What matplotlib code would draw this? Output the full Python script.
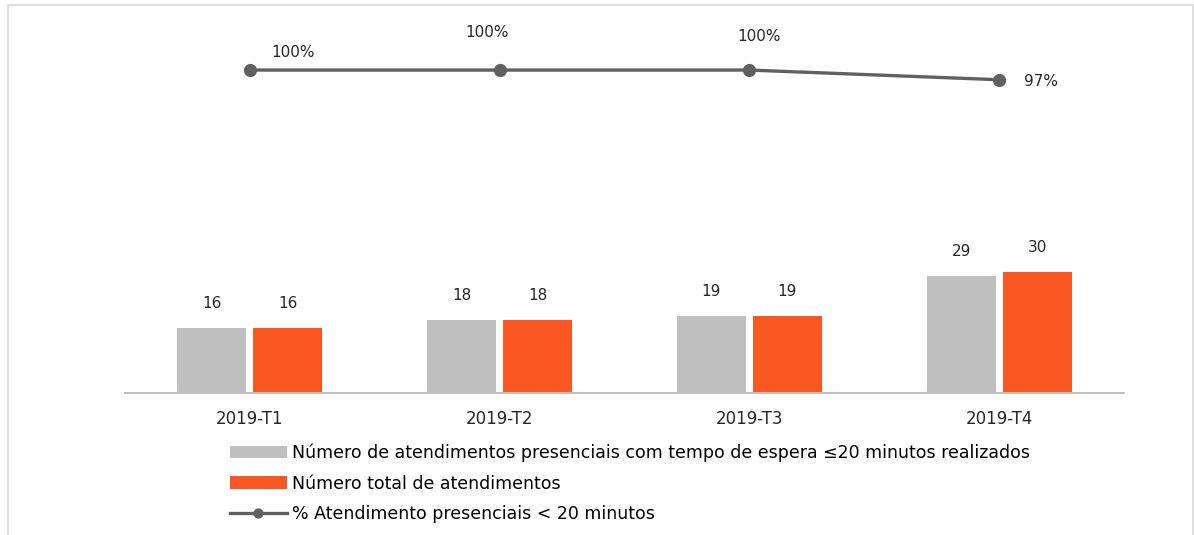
import numpy as np
import matplotlib.pyplot as plt
from matplotlib.patches import Rectangle

plt.rcParams['font.family'] = ['DejaVu Sans']

# dados
trimestres = ['2019-T1', '2019-T2', '2019-T3', '2019-T4']
realizados = [16, 18, 19, 29]
total = [16, 18, 19, 30]
percentagem = [1.00, 1.00, 1.00, 0.97]
rotulos_pct = ['100%', '100%', '100%', '97%']

nome_realizados = 'Número de atendimentos presenciais com tempo de espera ≤20 minutos realizados'
nome_total = 'Número total de atendimentos'
nome_pct = '% Atendimento presenciais < 20 minutos'

cor_cinza = '#BFBFBF'
cor_laranja = '#FA5722'
cor_linha = '#606060'

fig = plt.figure(figsize=(11.94, 5.35), dpi=100)
ax = fig.add_axes([0.1047, 0.2654, 0.8367, 0.6785])

# moldura do gráfico
fig.patches.append(Rectangle((8 / 1194, -0.05), 1185 / 1194, 1.05 - 5 / 535,
                             transform=fig.transFigure, fill=False,
                             edgecolor='#D9D9D9', linewidth=1.2))

x = np.arange(len(trimestres))
largura = 0.276
desloc = 0.152

b1 = ax.bar(x - desloc, realizados, largura, color=cor_cinza, label=nome_realizados)
b2 = ax.bar(x + desloc, total, largura, color=cor_laranja, label=nome_total)

for barras in (b1, b2):
    for r in barras:
        ax.annotate(f'{int(r.get_height())}', (r.get_x() + r.get_width() / 2, r.get_height()),
                    xytext=(0, 18), textcoords='offset points', ha='center', va='center',
                    fontsize=11, color='#262626')

ax.set_xlim(-0.5, 3.5)
ax.set_ylim(0, 90)
ax.set_yticks([])
ax.set_xticks(x)
ax.set_xticklabels(trimestres, fontsize=12, color='#262626')
ax.tick_params(axis='x', length=0, pad=12)
for s in ['top', 'right', 'left']:
    ax.spines[s].set_visible(False)
ax.spines['bottom'].set_color(cor_cinza)
ax.spines['bottom'].set_linewidth(1.5)

ax2 = ax.twinx()
ln, = ax2.plot(x, percentagem, color=cor_linha, linewidth=2.4, marker='o',
               markersize=8.5, label=nome_pct)
ax2.set_ylim(0, 1.124)
ax2.set_yticks([])
for s in ax2.spines.values():
    s.set_visible(False)

offsets = [(31, 13), (-9, 27), (7, 24), (30, -1)]
for xi, yi, txt, off in zip(x, percentagem, rotulos_pct, offsets):
    ax2.annotate(txt, (xi, yi), xytext=off, textcoords='offset points',
                 ha='center', va='center', fontsize=11, color='#262626')

leg = fig.legend(handles=[b1, b2, ln], loc='upper left', bbox_to_anchor=(0.1925, 0.171),
                 frameon=False, fontsize=12.5, handlelength=3.3, handletextpad=0.3,
                 labelspacing=0.72, borderaxespad=0, borderpad=0, markerscale=0.75)

fig.savefig('out.png', dpi=100)
